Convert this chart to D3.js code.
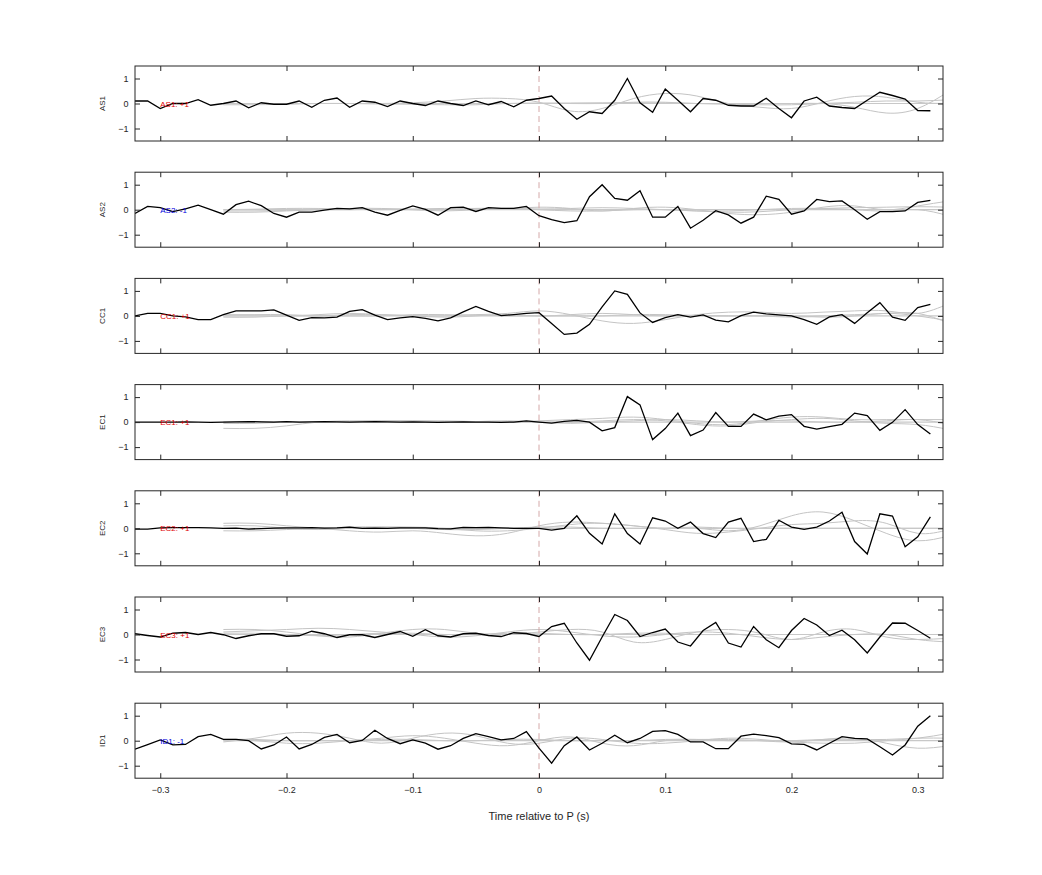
<!DOCTYPE html>
<html><head><meta charset="utf-8">
<script src="https://cdn.jsdelivr.net/npm/d3@7/dist/d3.min.js"></script>
<style>body{margin:0;background:#fff}svg{font-family:"Liberation Sans",Arial,sans-serif}</style>
</head><body><svg id="c" width="1042" height="875"></svg>
<script>
const channels = ["AS1","AS2","CC1","EC1","EC2","EC3","ID1"];
const signs = ["+1","-1","+1","+1","+1","+1","-1"];
const timeStart = -0.32, timeStep = 0.01;
const xTicks = [-0.3,-0.2,-0.1,0,0.1,0.2,0.3];
const yTicks = [-1,0,1];
const xLabel = "Time relative to P (s)";
const AS1 = [0.1,0.1,-0.2,0,0,0.15,-0.07,0,0.1,-0.17,0.03,-0.03,-0.03,0.1,-0.15,0.13,0.22,-0.15,0.1,0.05,-0.12,0.1,0,-0.08,0.1,0,-0.08,0.1,-0.05,0.08,-0.13,0.13,0.2,0.3,
 -0.2,-0.63,-0.33,-0.4,0.13,1.0,0.03,-0.35,0.58,0.13,-0.33,0.2,0.13,-0.07,-0.1,-0.1,0.21,-0.2,-0.57,0.1,0.25,-0.1,-0.16,-0.2,0.13,0.45,0.32,0.18,-0.28,-0.29];
const AS2 = [-0.15,0.13,0.08,-0.08,0.03,0.18,0,-0.18,0.2,0.34,0.16,-0.15,-0.3,-0.1,-0.1,-0.02,0.05,0.03,0.08,-0.1,-0.22,-0.03,0.15,0.01,-0.22,0.08,0.1,-0.07,0.08,0.05,0.05,0.13,
 -0.24,-0.4,-0.52,-0.44,0.52,1.0,0.45,0.38,0.76,-0.3,-0.3,0.13,-0.74,-0.42,-0.04,-0.21,-0.54,-0.3,0.54,0.41,-0.18,-0.05,0.41,0.32,0.35,0,-0.38,-0.08,-0.08,-0.05,0.29,0.37];
const CC1 = [0,0.1,0.1,0,-0.04,-0.15,-0.15,0.05,0.2,0.2,0.2,0.24,0.03,-0.18,-0.07,-0.08,-0.05,0.18,0.25,0.03,-0.15,-0.08,-0.03,-0.1,-0.2,-0.08,0.16,0.38,0.18,0.01,0.05,0.1,
 0.13,-0.3,-0.74,-0.69,-0.34,0.36,1.0,0.86,0.12,-0.26,-0.07,0.05,-0.05,0.04,-0.17,-0.24,0.01,0.15,0.08,0.04,0,-0.15,-0.34,-0.04,0.05,-0.3,0.13,0.53,-0.05,-0.18,0.33,0.46];
const EC1 = [0,0,0,0,0.01,0,-0.01,0,0.01,0.02,0.01,0,0.02,0,0.01,0.02,0.01,0,0.01,0.02,0.01,0,0.01,0,-0.01,0,0.01,0,0,-0.01,0,0.05,
 0,-0.04,0.03,0.07,0,-0.35,-0.22,1.02,0.69,-0.7,-0.26,0.36,-0.54,-0.32,0.38,-0.17,-0.17,0.32,0.09,0.24,0.3,-0.17,-0.28,-0.18,-0.09,0.36,0.26,-0.33,-0.01,0.5,-0.1,-0.48];
const EC2 = [-0.03,-0.03,0.02,0.03,0.03,0.03,0.02,0,0.01,-0.03,-0.01,0.01,0.02,0.02,0.03,0.01,0.02,0.05,0,0.01,0,0.02,0.02,0.02,-0.01,-0.02,0.04,0.03,0.04,0.02,0,0,
 0,-0.07,0,0.5,-0.2,-0.63,0.58,-0.21,-0.63,0.42,0.29,0,0.25,-0.21,-0.37,0.25,0.4,-0.53,-0.44,0.32,0.05,-0.04,0.05,0.29,0.64,-0.53,-1.03,0.58,0.49,-0.74,-0.34,0.46];
const EC3 = [0.03,-0.04,-0.1,0.05,0.08,0,0.08,-0.01,-0.16,-0.05,0.03,0.03,-0.07,-0.05,0.13,0.03,-0.12,-0.01,-0.01,-0.12,0,0.12,-0.07,0.19,-0.05,-0.1,0.03,0.05,-0.04,-0.08,0.07,0.04,
 -0.08,0.32,0.45,-0.34,-1.03,-0.1,0.8,0.56,-0.08,0.08,0.22,-0.3,-0.46,0.16,0.48,-0.34,-0.5,0.32,-0.21,-0.53,0.16,0.64,0.38,-0.04,0.17,-0.21,-0.74,-0.1,0.46,0.45,0.16,-0.15];
const ID1 = [-0.34,-0.16,0.03,-0.17,-0.15,0.16,0.25,0.05,0.05,0,-0.33,-0.17,0.15,-0.33,-0.15,0.13,0.25,-0.08,0.01,0.42,0.09,-0.12,0.03,-0.1,-0.34,-0.2,0.09,0.28,0.16,0.03,0.09,0.36,
 -0.3,-0.9,-0.2,0.15,-0.37,-0.1,0.22,-0.08,0.09,0.37,0.4,0.25,-0.05,-0.05,-0.32,-0.32,0.18,0.26,0.2,0.12,-0.13,-0.15,-0.37,-0.1,0.16,0.09,0.07,-0.24,-0.57,-0.17,0.58,1.0];
const series = [AS1,AS2,CC1,EC1,EC2,EC3,ID1];

const grayX = [-0.25,-0.225,-0.2,-0.175,-0.15,-0.125,-0.1,-0.075,-0.05,-0.025,0,0.025,0.05,0.075,0.1,0.125,0.15,0.175,0.2,0.225,0.25,0.275,0.3,0.325];
const grayAS1 = [
 [0,0,0,0,0,0,0.03,0.1,0.2,0.2,0.05,-0.3,-0.2,0.2,0.4,0.3,0,-0.15,-0.2,0.05,0.28,0.25,0.05,0],
 [0,0,0,0,0,0,0,0,0,0,0,0,0,0.05,0.05,0,0,0,0,0,-0.15,-0.38,-0.2,0.5],
 [-0.05,-0.05,-0.03,0,0,-0.02,-0.03,-0.05,-0.05,0,0.02,0.02,0.03,0.03,0.02,0,-0.03,-0.05,-0.05,0,0.05,0.1,0.1,0.15]];
const grayAS2 = [
 [-0.1,-0.1,-0.05,0,0.05,0.05,0,-0.05,0,0.05,0.1,0.05,-0.05,0.05,0.1,0,-0.15,-0.2,-0.1,0.1,0.15,0,0.15,0.35],
 [0,0.02,0.05,0.05,0.03,0,0,0,0.05,0.05,0,-0.05,-0.05,0,0,-0.05,-0.05,0,0.05,0.05,0,-0.05,0,-0.25],
 [-0.05,-0.05,-0.03,0,0,0.02,0.03,0.05,0.05,0.05,0.03,0.05,0.08,0.05,0,-0.05,-0.1,-0.08,0,0.05,0.08,0.1,0.12,0.1]];
const grayCC1 = [
 [0,0,0,0.05,0.1,0.05,0,0,0.05,0.1,0.2,0.05,-0.2,-0.3,-0.15,0.05,0.15,0.15,0.1,0.15,0.2,0.2,0.1,0.5],
 [-0.05,-0.05,0,0,0.05,0.05,0,-0.05,0,0.05,0,0.05,0.1,0.05,0,0,0,0,0,-0.05,0,0.1,0,-0.2],
 [0.05,0.05,0.05,0,0,0,0.05,0.05,0.03,0,0,0,0,0.05,0.05,0.02,0,0,-0.05,0,0.05,0.1,0.1,-0.3]];
const grayEC1 = [
 [-0.25,-0.25,-0.15,0,0.05,0.05,0.05,0.02,0,0,0.05,0.1,0.15,0.2,0.1,-0.05,-0.1,0.05,0.2,0.2,0.1,0.1,0.1,0.1],
 [0,0,0,0,0.02,0.05,0.05,0.05,0.02,0,0,0,0.05,0.1,0.05,-0.1,-0.15,0,0.1,0.15,0.05,-0.05,-0.1,-0.3],
 [-0.05,-0.05,0,0,0,0,0,0,0.02,0.05,0,-0.05,0,0.05,0.1,0.05,0,0.05,0.05,0,0,0.05,0.1,-0.1]];
const grayEC2 = [
 [0.2,0.2,0.1,0,-0.1,-0.15,-0.1,-0.2,-0.3,-0.2,0.1,0.25,0.2,0.1,0,0,-0.1,0.1,0.5,0.65,0.3,-0.2,-0.5,-0.3],
 [0.1,0.1,0,-0.05,0,0.05,0.05,0,-0.1,-0.1,0,0.15,0.2,0.1,-0.05,-0.2,-0.15,0,0.15,0.2,0.3,0.2,-0.2,-0.05],
 [-0.1,-0.1,-0.05,0,0.05,0.05,0,-0.05,-0.05,0,0.05,0.05,0,0,0,0.05,0,0,0,0,0,0,0,0]];
const grayEC3 = [
 [0.2,0.2,0.1,-0.05,-0.1,0.05,0.2,0.2,0.05,0,0.1,0.2,0.1,-0.3,-0.2,0.1,0.2,0.05,-0.2,0.1,0.2,-0.1,-0.2,-0.15],
 [0.1,0.15,0.2,0.25,0.2,0.1,0,-0.1,-0.05,0.1,0.2,0.1,-0.05,-0.1,0,0.1,0.05,-0.1,-0.2,-0.1,0,0,-0.2,-0.3],
 [0.05,0.05,0,-0.05,0,0.05,0.05,0,0,0.05,0.05,0,0,0.05,0.05,0,0,0,0,0,0,0,0,0]];
const grayID1 = [
 [-0.05,0.1,0.3,0.3,0.1,-0.1,0.1,0.3,0.2,-0.1,-0.1,0.1,0.05,-0.1,-0.1,0,0.1,0.05,-0.05,-0.1,-0.1,0,0.1,0.3],
 [0,0,-0.1,-0.1,0,0.1,0.2,0.1,-0.1,-0.2,0,0.15,-0.1,-0.2,0,0.05,0.05,0,-0.05,0.05,0.1,-0.1,-0.3,-0.2],
 [0.05,0.05,0,0,0,0.05,0.05,0,0,0.05,0.05,0,0,0,0.05,0.05,0,0,0,0.05,0.05,0.05,0.1,0.1]];
const grays = [grayAS1,grayAS2,grayCC1,grayEC1,grayEC2,grayEC3,grayID1];

const svg = d3.select("#c");
const L=135, R=943, panelTop=66, panelH=75, panelGap=106.2;
const x = d3.scaleLinear().domain([-0.32,0.32]).range([L,R]);
const font = 9;

channels.forEach((ch,i)=>{
  const top = panelTop + i*panelGap;
  const y = d3.scaleLinear().domain([-1.5,1.5]).range([top+panelH, top]);
  const g = svg.append("g");
  const cid = "clip"+i;
  svg.append("clipPath").attr("id",cid).append("rect").attr("x",L).attr("y",top).attr("width",R-L).attr("height",panelH);
  const pg = g.append("g").attr("clip-path",`url(#${cid})`);
  const gl = d3.line().x((d,k)=>x(grayX[k])).y(d=>y(d)).curve(d3.curveNatural);
  grays[i].forEach(arr=>{
    pg.append("path").attr("d",gl(arr)).attr("fill","none").attr("stroke","#c4c4c4").attr("stroke-width",1);
  });
  pg.append("line").attr("x1",x(grayX[0])).attr("x2",R).attr("y1",y(0)).attr("y2",y(0)).attr("stroke","#c8c8c8").attr("stroke-width",1.2);
  pg.append("line").attr("x1",x(0)).attr("x2",x(0)).attr("y1",top).attr("y2",top+panelH)
    .attr("stroke","#d4a8a8").attr("stroke-dasharray","6,4").attr("stroke-width",1);
  const bl = d3.line().x((d,k)=>x(timeStart+k*timeStep)).y(d=>y(d));
  pg.append("path").attr("d",bl(series[i])).attr("fill","none").attr("stroke","#000").attr("stroke-width",1.3);
  g.append("text").attr("x",x(-0.3)).attr("y",y(0)+3).attr("font-size",8)
    .attr("fill",signs[i]==="+1"?"#e00000":"#0000dd").text(`${ch}: ${signs[i]}`);
  const xb = d3.axisBottom(x).tickValues(xTicks).tickSizeInner(-5).tickSizeOuter(0)
    .tickFormat(i===channels.length-1 ? d3.format("") : "");
  const ax = g.append("g").attr("transform",`translate(0,${top+panelH})`).call(xb);
  ax.selectAll("text").attr("dy","1.3em").attr("font-size",font).attr("font-family","Liberation Sans, Arial");
  const xt = d3.axisTop(x).tickValues(xTicks).tickSizeInner(-5).tickSizeOuter(0).tickFormat("");
  g.append("g").attr("transform",`translate(0,${top})`).call(xt);
  const yl = d3.axisLeft(y).tickValues(yTicks).tickSizeInner(-5).tickSizeOuter(0).tickFormat(d3.format(""));
  const ay = g.append("g").attr("transform",`translate(${L},0)`).call(yl);
  ay.selectAll("text").attr("dx","-0.4em").attr("font-size",font).attr("font-family","Liberation Sans, Arial");
  g.append("g").attr("transform",`translate(${R},0)`).call(d3.axisRight(y).tickValues(yTicks).tickSizeInner(-5).tickSizeOuter(0).tickFormat(""));
  g.selectAll(".domain").remove();
  g.append("rect").attr("x",L).attr("y",top).attr("width",R-L).attr("height",panelH).attr("fill","none").attr("stroke","#262626").attr("stroke-width",1);
  g.selectAll(".tick line").attr("stroke","#262626");
  g.selectAll(".tick text").attr("fill","#262626");
  g.append("text").attr("transform",`translate(105,${top+panelH/2}) rotate(-90)`).attr("text-anchor","middle")
    .attr("font-size",8).attr("fill","#262626").text(ch);
});
svg.append("text").attr("x",x(0)).attr("y",820).attr("text-anchor","middle").attr("font-size",11).attr("fill","#262626").text(xLabel);
</script></body></html>
